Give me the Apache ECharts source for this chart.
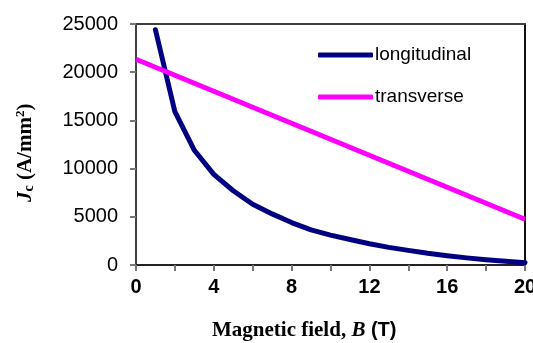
<!DOCTYPE html>
<html>
<head>
<meta charset="utf-8">
<script src="https://cdn.jsdelivr.net/npm/echarts@6/dist/echarts.min.js"></script>
<style>
html,body{margin:0;padding:0;background:#fff;}
#chart{width:533px;height:343px;}
</style>
</head>
<body>
<div id="chart"></div>
<script>
// Data
var longField = [1, 2, 3, 4, 5, 6, 7, 8, 9, 10, 11, 12, 13, 14, 15, 16, 17, 18, 19, 20];
var longJc = [24400, 15900, 11900, 9400, 7700, 6300, 5300, 4400, 3650, 3100, 2650, 2200, 1830, 1520, 1220, 970, 740, 550, 380, 240];
var transField = [0, 20];
var transJc = [21340, 4740];
var seriesNames = ['longitudinal', 'transverse'];
var xTickLabels = ['0', '4', '8', '12', '16', '20'];

function pairs(xs, ys) { return xs.map(function (x, i) { return [x, ys[i]]; }); }

var chart = echarts.init(document.getElementById('chart'), null, {renderer: 'canvas'});
var axisColor = '#404040';
chart.setOption({
  animation: false,
  backgroundColor: '#fff',
  grid: {left: 136, right: 8, top: 24, bottom: 78, show: false, containLabel: false, outerBoundsMode: 'none'},
  legend: {
    orient: 'vertical',
    left: 313, top: 40,
    itemWidth: 55, itemHeight: 5, itemGap: 22,
    icon: 'roundRect',
    textStyle: {fontFamily: 'Liberation Sans, Arial', fontSize: 19, color: '#000', lineHeight: 20, padding: [0, 0, 0, -3]},
    data: seriesNames
  },
  xAxis: [{
    type: 'value', min: 0, max: 20, interval: 2,
    axisLine: {show: true, onZero: false, lineStyle: {color: '#222', width: 2}},
    axisTick: {show: true, inside: false, length: 6, lineStyle: {color: '#777', width: 2}},
    splitLine: {show: false},
    axisLabel: {
      margin: 12, fontFamily: 'Liberation Sans, Arial', fontWeight: 'bold', fontSize: 20, color: '#000',
      hideOverlap: false,
      formatter: function (v) { return xTickLabels.indexOf(String(v)) >= 0 ? String(v) : ''; }
    }
  }, {
    type: 'value', position: 'top', min: 0, max: 20,
    axisLine: {show: true, onZero: false, lineStyle: {color: axisColor, width: 2}},
    axisTick: {show: false}, axisLabel: {show: false}, splitLine: {show: false}
  }],
  yAxis: [{
    type: 'value', min: 0, max: 25000, interval: 5000,
    axisLine: {show: true, onZero: false, lineStyle: {color: axisColor, width: 2}},
    axisTick: {show: true, inside: false, length: 6, lineStyle: {color: '#777', width: 2}},
    splitLine: {show: false},
    axisLabel: {margin: 18, fontFamily: 'Liberation Sans, Arial', fontSize: 20, color: '#000',
      formatter: function (v) { return String(v); }}
  }, {
    type: 'value', position: 'right', min: 0, max: 25000,
    axisLine: {show: true, onZero: false, lineStyle: {color: '#111', width: 2}},
    axisTick: {show: false}, axisLabel: {show: false}, splitLine: {show: false}
  }],
  series: [{
    name: seriesNames[0], type: 'line', data: pairs(longField, longJc),
    symbol: 'none', color: '#000080',
    lineStyle: {width: 5, color: '#000080', cap: 'round', join: 'round'}
  }, {
    name: seriesNames[1], type: 'line', data: pairs(transField, transJc),
    symbol: 'none', color: '#FF00FF',
    lineStyle: {width: 5, color: '#FF00FF', cap: 'butt'}
  }],
  graphic: [{
    type: 'text', left: 212, top: 320,
    style: {
      rich: {
        a: {fontFamily: 'Liberation Serif, Times New Roman', fontWeight: 'bold', fontSize: 21, fill: '#000'},
        b: {fontFamily: 'Liberation Serif, Times New Roman', fontWeight: 'bold', fontStyle: 'italic', fontSize: 21, fill: '#000'},
        c: {fontFamily: 'Liberation Sans, Arial', fontWeight: 'bold', fontSize: 20, fill: '#000'}
      },
      text: '{a|Magnetic field, }{b|B}{c| (T)}'
    }
  }, {
    type: 'text', x: 14, y: 202, rotation: Math.PI / 2,
    style: {
      rich: {
        j: {fontFamily: 'Liberation Serif, Times New Roman', fontWeight: 'bold', fontStyle: 'italic', fontSize: 21, fill: '#000'},
        s: {fontFamily: 'Liberation Serif, Times New Roman', fontWeight: 'bold', fontSize: 14, fill: '#000', padding: [8, 0, 0, 0]},
        a: {fontFamily: 'Liberation Serif, Times New Roman', fontWeight: 'bold', fontSize: 21, fill: '#000'},
        p: {fontFamily: 'Liberation Serif, Times New Roman', fontWeight: 'bold', fontSize: 13, fill: '#000', padding: [0, 0, 10, 0]}
      },
      text: '{j|J}{s|c}{a| (A/mm}{p|2}{a|)}'
    }
  }]
});
</script>
</body>
</html>
